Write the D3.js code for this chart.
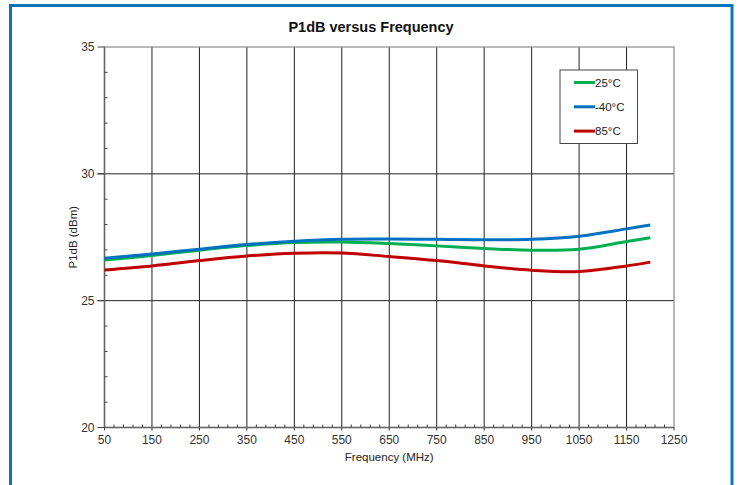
<!DOCTYPE html>
<html>
<head>
<meta charset="utf-8">
<script src="https://cdn.jsdelivr.net/npm/d3@7"></script>
<style>
  html, body { margin: 0; padding: 0; background: #fff; }
  svg { display: block; font-family: "Liberation Sans", Arial, sans-serif; }
</style>
</head>
<body>
<svg id="chart" width="739" height="485"></svg>
<script>
const freqs   = [50, 150, 250, 350, 450, 550, 650, 750, 850, 950, 1050, 1150, 1200];
const t25     = [26.60, 26.78, 26.99, 27.17, 27.29, 27.31, 27.25, 27.16, 27.06, 26.99, 27.03, 27.33, 27.48];
const tm40    = [26.67, 26.84, 27.03, 27.21, 27.34, 27.42, 27.43, 27.42, 27.40, 27.42, 27.54, 27.83, 27.98];
const t85     = [26.21, 26.37, 26.58, 26.76, 26.87, 26.88, 26.74, 26.58, 26.37, 26.20, 26.15, 26.37, 26.52];
const seriesNames  = ["25°C", "-40°C", "85°C"];
const seriesColors = ["#00b050", "#0070c0", "#c00000"];
const xTicks = [50, 150, 250, 350, 450, 550, 650, 750, 850, 950, 1050, 1150, 1250];
const yTicks = [20, 25, 30, 35];
const titleText = "P1dB versus Frequency";
const xLabel = "Frequency (MHz)";
const yLabel = "P1dB (dBm)";

const svg = d3.select("#chart");
const W = 739, H = 485;
const m = { left: 104.5, right: W - 674, top: 47, bottom: H - 427.5 };

svg.append("rect").attr("x", 10.5).attr("y", 5.5).attr("width", 721.5).attr("height", 490)
  .attr("fill", "none").attr("stroke", "#0a74b8").attr("stroke-width", 3);

const x = d3.scaleLinear().domain([50, 1250]).range([m.left, W - m.right]);
const y = d3.scaleLinear().domain([20, 35]).range([H - m.bottom, m.top]);

const g = svg.append("g");

g.selectAll("line.vg").data(xTicks.slice(1, -1)).join("line")
  .attr("x1", d => x(d)).attr("x2", d => x(d))
  .attr("y1", y(35)).attr("y2", y(20) + 3)
  .attr("stroke", "#222").attr("stroke-width", 1);
g.selectAll("line.hg").data(yTicks.slice(1, -1)).join("line")
  .attr("x1", x(50) - 7).attr("x2", x(1250))
  .attr("y1", d => y(d)).attr("y2", d => y(d))
  .attr("stroke", "#222").attr("stroke-width", 1);

g.append("rect").attr("x", x(50)).attr("y", y(35))
  .attr("width", x(1250) - x(50)).attr("height", y(20) - y(35))
  .attr("fill", "none").attr("stroke", "#8a8a8a").attr("stroke-width", 1.2);
g.append("line").attr("x1", x(50)).attr("x2", x(50)).attr("y1", y(35)).attr("y2", y(20))
  .attr("stroke", "#666").attr("stroke-width", 1.5);
g.append("line").attr("x1", x(50)).attr("x2", x(1250)).attr("y1", y(20)).attr("y2", y(20))
  .attr("stroke", "#666").attr("stroke-width", 1.5);

const yMinor = d3.range(21, 35).filter(v => v % 5 !== 0);
g.selectAll("line.ym").data(yMinor).join("line")
  .attr("x1", x(50)).attr("x2", x(50) + 3)
  .attr("y1", d => y(d)).attr("y2", d => y(d))
  .attr("stroke", "#444").attr("stroke-width", 1);
g.selectAll("line.yM").data(yTicks).join("line")
  .attr("x1", x(50) - 7).attr("x2", x(50))
  .attr("y1", d => y(d)).attr("y2", d => y(d))
  .attr("stroke", "#444").attr("stroke-width", 1);
const xMinor = d3.range(70, 1250, 20).filter(v => (v - 50) % 100 !== 0);
g.selectAll("line.xm").data(xMinor).join("line")
  .attr("x1", d => x(d)).attr("x2", d => x(d))
  .attr("y1", y(20)).attr("y2", y(20) - 3)
  .attr("stroke", "#444").attr("stroke-width", 1);
g.selectAll("line.xM").data([50, 1250]).join("line")
  .attr("x1", d => x(d)).attr("x2", d => x(d))
  .attr("y1", y(20)).attr("y2", y(20) + 3)
  .attr("stroke", "#444").attr("stroke-width", 1);

g.selectAll("text.yt").data(yTicks).join("text")
  .attr("x", x(50) - 10).attr("y", d => y(d)).attr("dy", "0.35em")
  .attr("text-anchor", "end").attr("font-size", 12).attr("fill", "#333")
  .text(d => d);
g.selectAll("text.xt").data(xTicks).join("text")
  .attr("x", d => x(d)).attr("y", y(20) + 16)
  .attr("text-anchor", "middle").attr("font-size", 12).attr("fill", "#333")
  .text(d => d);

svg.append("text").attr("x", 371).attr("y", 32).attr("text-anchor", "middle")
  .attr("font-size", 14.5).attr("font-weight", "bold").attr("fill", "#111").text(titleText);
svg.append("text").attr("x", (x(50) + x(1250)) / 2).attr("y", 461).attr("text-anchor", "middle")
  .attr("font-size", 11.5).attr("fill", "#222").text(xLabel);
svg.append("text").attr("transform", `translate(77,${(y(20) + y(35)) / 2}) rotate(-90)`)
  .attr("text-anchor", "middle").attr("font-size", 11.5).attr("fill", "#222").text(yLabel);

const allSeries = [t25, tm40, t85];
const line = d3.line().x((d, i) => x(freqs[i])).y(d => y(d)).curve(d3.curveCatmullRom.alpha(0.5));
const drawOrder = [0, 2, 1];
drawOrder.forEach(k => {
  g.append("path").datum(allSeries[k]).attr("d", line)
    .attr("fill", "none").attr("stroke", seriesColors[k]).attr("stroke-width", 3)
    .attr("stroke-linejoin", "round");
});

const lg = svg.append("g");
lg.append("rect").attr("x", 560).attr("y", 70).attr("width", 77.5).attr("height", 73.5)
  .attr("fill", "#fff").attr("stroke", "#444").attr("stroke-width", 1);
seriesNames.forEach((n, i) => {
  const yy = 82.5 + i * 24.3;
  lg.append("line").attr("x1", 574).attr("x2", 595).attr("y1", yy).attr("y2", yy)
    .attr("stroke", seriesColors[i]).attr("stroke-width", 3);
  lg.append("text").attr("x", 595).attr("y", yy).attr("dy", "0.35em")
    .attr("font-size", 11.5).attr("fill", "#222").text(n);
});
</script>
</body>
</html>
